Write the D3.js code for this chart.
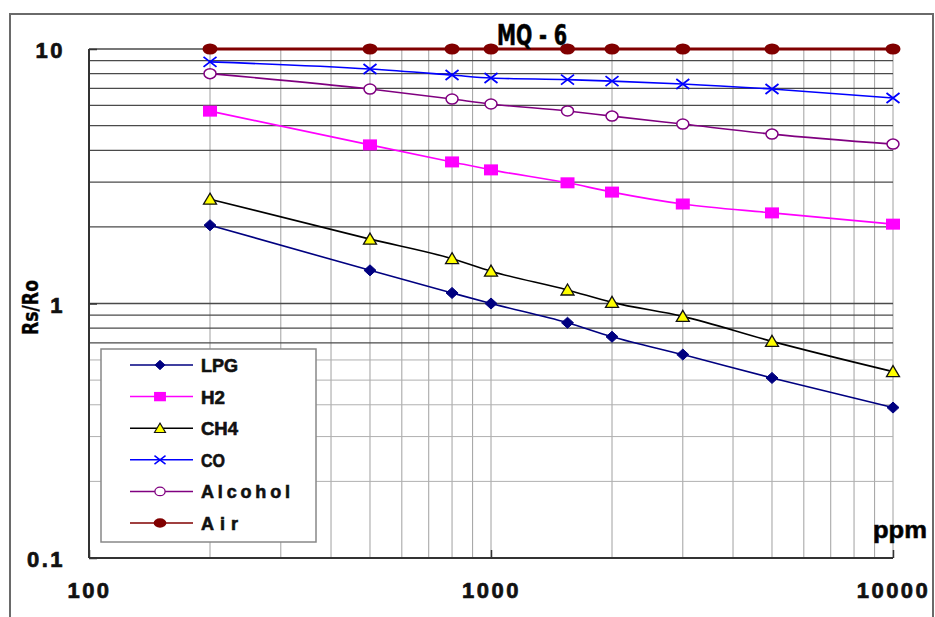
<!DOCTYPE html>
<html>
<meta charset="UTF-8">
<head>
<title>MQ-6</title>
<style>
    body { margin: 0; background: #fff; }
    svg { display: block; }
    .grid-dark { stroke: #4a4a4a; stroke-width: 1.3px; }
    .grid-light { stroke: #b0b0b0; stroke-width: 1px; }
    .grid-v { stroke: #a0a0a0; stroke-width: 1px; }
    .tick-lbl text { font-family: "Liberation Sans", Arial, sans-serif; font-weight: bold; font-size: 22px; letter-spacing: 2.5px; fill: #111; stroke: #111; stroke-width: 0.7px; }
    .legend text { font-family: "Liberation Sans", Arial, sans-serif; font-weight: bold; font-size: 18px; fill: #111; stroke: #111; stroke-width: 0.6px; }
</style>
</head>
<body>
<div id="chart"></div>
<script src="https://d3js.org/d3.v7.min.js"></script>
<script>
// values
let ppm = [200, 500, 800, 1000, 1550, 2000, 3000, 5000, 10000];
let lpg = [2.03, 1.35, 1.10, 1.0, 0.84, 0.74, 0.63, 0.51, 0.39];
let h2 = [5.7, 4.2, 3.6, 3.35, 2.98, 2.74, 2.46, 2.27, 2.05];
let ch4 = [2.57, 1.79, 1.5, 1.34, 1.13, 1.01, 0.89, 0.71, 0.54];
let co = [8.9, 8.34, 7.9, 7.69, 7.58, 7.48, 7.29, 6.96, 6.42];
let alcohol = [8.0, 6.96, 6.36, 6.08, 5.71, 5.45, 5.07, 4.63, 4.23];
let air = [10, 10, 10, 10, 10, 10, 10, 10, 10];

let seriesNames = ["LPG", "H2", "CH4", "CO", "Alcohol", "Air"];
let xTickLabels = [100, 1000, 10000];
let yTickLabels = [0.1, 1, 10];

let series = [
    {name: "LPG", values: lpg, line: "#000080", marker: "diamond"},
    {name: "H2", values: h2, line: "#ff00ff", marker: "square"},
    {name: "CH4", values: ch4, line: "#000000", marker: "triangle"},
    {name: "CO", values: co, line: "#0000ff", marker: "cross"},
    {name: "Alcohol", values: alcohol, line: "#800080", marker: "ring"},
    {name: "Air", values: air, line: "#800000", marker: "dot"}
];

let W = 935, H = 617;
let svg = d3.select("#chart").append("svg").attr("width", W).attr("height", H);

// outer frame (bottom edge is off the picture)
svg.append("rect")
    .attr("x", 10).attr("y", 14).attr("width", 923).attr("height", 620)
    .attr("fill", "none").attr("stroke", "#6a6a6a").attr("stroke-width", 2);

let x = d3.scaleLog().domain([100, 10000]).range([89, 893]);
let y = d3.scaleLog().domain([0.1, 10]).range([558, 49]);

// grid
let grid = svg.append("g");
grid.selectAll("line.v")
    .data(x.ticks().filter(d => d > 100))
    .enter().append("line")
    .attr("class", "grid-v")
    .attr("x1", d => x(d)).attr("x2", d => x(d))
    .attr("y1", y(10)).attr("y2", y(0.1));
grid.selectAll("line.h")
    .data(y.ticks().filter(d => d > 0.1))
    .enter().append("line")
    .attr("class", d => d >= 0.7 ? "grid-dark" : "grid-light")
    .attr("x1", x(100)).attr("x2", x(10000))
    .attr("y1", d => y(d)).attr("y2", d => y(d));

// axes lines
svg.append("line").attr("x1", x(100)).attr("x2", x(100)).attr("y1", y(10)).attr("y2", y(0.1))
    .attr("stroke", "#333").attr("stroke-width", 2);
svg.append("line").attr("x1", x(100)).attr("x2", x(10000)).attr("y1", y(0.1)).attr("y2", y(0.1))
    .attr("stroke", "#333").attr("stroke-width", 2);

// tick labels
let xAxis = svg.append("g").attr("class", "tick-lbl")
    .attr("transform", "translate(0," + y(0.1) + ")")
    .call(d3.axisBottom(x).tickValues(xTickLabels).tickFormat(d3.format("d")).tickSize(-8).tickPadding(24));
let yAxis = svg.append("g").attr("class", "tick-lbl")
    .attr("transform", "translate(" + x(100) + ",0)")
    .call(d3.axisLeft(y).tickValues(yTickLabels).tickFormat(d => d === 0.1 ? "0.1" : d3.format("d")(d)).tickSize(-8).tickPadding(24));
svg.selectAll(".tick-lbl .domain").remove();
svg.selectAll(".tick-lbl line").attr("stroke", "#333").attr("stroke-width", 1.5);
yAxis.selectAll("text").attr("dy", "0.4em");

// markers
function marker(sel, kind, color) {
    if (kind === "diamond") {
        sel.append("path").attr("d", "M-6,0L0,-5.5L6,0L0,5.5Z").attr("fill", color).attr("stroke", color);
    } else if (kind === "square") {
        sel.append("rect").attr("x", -7).attr("y", -5.5).attr("width", 14).attr("height", 11).attr("fill", "#ff00ff");
    } else if (kind === "triangle") {
        sel.append("path").attr("d", "M0,-6L6.5,5L-6.5,5Z").attr("fill", "#ffff00").attr("stroke", "#111").attr("stroke-width", 1.3);
    } else if (kind === "cross") {
        sel.append("path").attr("d", "M-6.5,-5L6.5,5M-6.5,5L6.5,-5").attr("stroke", color).attr("stroke-width", 1.8);
    } else if (kind === "ring") {
        sel.append("ellipse").attr("rx", 6).attr("ry", 5).attr("fill", "#fff").attr("stroke", color).attr("stroke-width", 1.5);
    } else {
        sel.append("ellipse").attr("rx", 7.5).attr("ry", 5.5).attr("fill", color);
    }
}

let line = d3.line()
    .x((d, i) => x(ppm[i]))
    .y(d => y(d))
    .curve(d3.curveMonotoneX);

series.forEach(s => {
    let g = svg.append("g");
    g.append("path")
        .attr("d", line(s.values))
        .attr("fill", "none")
        .attr("stroke", s.line)
        .attr("stroke-width", s.name === "Air" ? 3 : 1.6);
    g.selectAll("g.m")
        .data(s.values)
        .enter().append("g")
        .attr("transform", (d, i) => "translate(" + x(ppm[i]) + "," + y(d) + ")")
        .each(function() { marker(d3.select(this), s.marker, s.line); });
});

// legend
let legend = svg.append("g").attr("class", "legend");
legend.append("rect")
    .attr("x", 101).attr("y", 349).attr("width", 215).attr("height", 193)
    .attr("fill", "#fff").attr("stroke", "#888").attr("stroke-width", 1.5);
let rowY = d3.scalePoint().domain(seriesNames).range([365, 523]);
series.forEach(s => {
    let r = legend.append("g").attr("transform", "translate(0," + rowY(s.name) + ")");
    r.append("line").attr("x1", 130).attr("x2", 193).attr("y1", 0).attr("y2", 0)
        .attr("stroke", s.line).attr("stroke-width", 1.5);
    let m = r.append("g").attr("transform", "translate(160,0) scale(0.85)");
    marker(m, s.marker, s.line);
    // the original font is a wide fixed-pitch one: about 13px a letter
    r.append("text").attr("x", 201).attr("y", 7)
        .attr("textLength", s.name.length * 13 - 2)
        .attr("lengthAdjust", s.name === "Alcohol" || s.name === "Air" ? "spacing" : "spacingAndGlyphs")
        .text(s.name);
});

// title and axis names
svg.append("text")
    .attr("x", 497).attr("y", 45)
    .attr("textLength", 70).attr("lengthAdjust", "spacingAndGlyphs")
    .style("font-family", "'Liberation Sans Narrow', 'DejaVu Sans Condensed', sans-serif")
    .style("font-weight", "bold").style("font-size", "28px")
    .style("stroke", "#111").style("stroke-width", 0.6)
    .text("MQ - 6");
svg.append("text")
    .attr("x", 873).attr("y", 538)
    .attr("textLength", 54).attr("lengthAdjust", "spacingAndGlyphs")
    .style("font-family", "'Liberation Sans', sans-serif")
    .style("font-weight", "bold").style("font-size", "24px")
    .style("stroke", "#111").style("stroke-width", 0.6)
    .text("ppm");
svg.append("text")
    .attr("transform", "translate(38,335) rotate(-90)")
    .attr("textLength", 55).attr("lengthAdjust", "spacingAndGlyphs")
    .style("font-family", "'Liberation Sans Narrow', 'DejaVu Sans Condensed', sans-serif")
    .style("font-weight", "bold").style("font-size", "21px")
    .style("stroke", "#111").style("stroke-width", 0.4)
    .text("Rs/Ro");
</script>
</body>
</html>
